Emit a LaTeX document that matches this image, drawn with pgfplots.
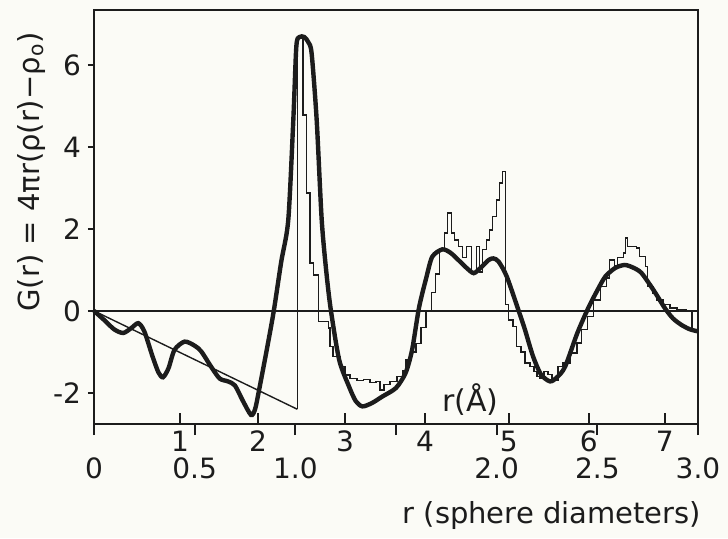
\documentclass[border=0pt]{standalone}
\usepackage{fontspec}
\setmainfont{DejaVu Sans}
\usepackage{pgfplots}
\pgfplotsset{compat=1.18}
\definecolor{paper}{RGB}{251,251,246}
\definecolor{ink}{RGB}{28,28,28}

\begin{document}
\begin{tikzpicture}
% 1 px of the reference = 0.5pt
\useasboundingbox[fill=paper] (-47pt,-57pt) rectangle (317pt,212pt);
\begin{axis}[
  scale only axis, width=302pt, height=207pt,
  xmin=0, xmax=3, ymin=-2.76, ymax=7.34,
  axis line style={line width=1.25pt, ink},
  font=\fontsize{14}{16}\selectfont,
  every tick label/.append style={ink},
  xtick pos=bottom, ytick pos=left,
  tick align=outside,
  tick style={line width=0.9pt, ink},
  major tick length=3pt,
  ytick={-2,0,2,4,6},
  yticklabels={-2,0,2,4,6},
  xtick={0,0.5,1,1.5,2,2.5,3},
  xticklabels={0,0.5,1.0,,2.0,2.5,3.0},
  x tick style={/pgfplots/major tick length=5.5pt},
  xticklabel style={yshift=-10.5pt},
  extra x ticks={0.427,0.815,1.247,1.644,2.06,2.458,2.835},
  extra x tick labels={1,2,3,4,5,6,7},
  extra x tick style={tick align=inside, /pgfplots/major tick length=3.5pt,
    xticklabel style={yshift=10.5pt}},
  xlabel={r (sphere diameters)},
  xlabel style={at={(axis description cs:0.758,-0.22)}, anchor=center,
    font=\fontsize{14.5}{17}\selectfont, ink},
  ylabel={G(r) = 4πr(ρ(r)−ρ\textsubscript{o})},
  ylabel style={at={(axis description cs:-0.104,0.609)}, anchor=center,
    font=\fontsize{14.5}{17}\selectfont, ink},
  clip=false,
]
% zero line
\addplot[ink, line width=0.75pt] coordinates {(0,0) (3,0)};

% hard-sphere part, r < 1
\addplot[ink, line width=0.7pt] coordinates {(0,0) (1.01,-2.4)};

% histogram
\addplot[const plot, ink, line width=0.7pt] coordinates {
  (1.01,-2.4) (1.01,6.65) (1.038,4.78) (1.056,2.88) (1.073,1.17) (1.089,0.88)
  (1.114,-0.26) (1.164,-0.42) (1.172,-0.87) (1.187,-1.12) (1.222,-1.36)
  (1.247,-1.56) (1.272,-1.65) (1.306,-1.7) (1.34,-1.68) (1.371,-1.75)
  (1.40,-1.72) (1.421,-1.93) (1.44,-1.8) (1.47,-1.72) (1.504,-1.6)
  (1.535,-1.45) (1.55,-1.2) (1.575,-1.0) (1.60,-0.8) (1.625,-0.4)
  (1.65,0.0) (1.675,0.45) (1.695,0.9) (1.715,1.5) (1.74,1.9) (1.755,2.39)
  (1.775,1.9) (1.79,1.73) (1.81,1.57) (1.83,1.3) (1.85,1.57) (1.875,0.95)
  (1.90,1.57) (1.915,0.95) (1.93,1.49) (1.95,1.73) (1.965,1.97) (1.98,2.3)
  (2.0,2.7) (2.015,3.12) (2.03,3.4) (2.045,0.15) (2.06,-0.22) (2.081,-0.38)
  (2.10,-0.87) (2.121,-1.0) (2.141,-1.27) (2.166,-1.36) (2.185,-1.48)
  (2.20,-1.6) (2.215,-1.64) (2.235,-1.48) (2.255,-1.55) (2.275,-1.7)
  (2.305,-1.36) (2.33,-1.27) (2.365,-1.03) (2.40,-0.78) (2.42,-0.46)
  (2.45,-0.14) (2.48,0.27) (2.515,0.59) (2.545,0.8) (2.56,1.24) (2.585,1.1)
  (2.60,1.3) (2.63,1.41) (2.64,1.78) (2.65,1.57) (2.695,1.53) (2.71,1.32)
  (2.74,1.08) (2.75,0.59) (2.777,0.43) (2.795,0.27) (2.826,0.15)
  (2.86,0.07) (2.895,0.02) (2.94,-0.02) (2.97,-0.46) (3.0,-0.46)
};

% smooth experimental curve
\addplot[smooth, tension=0.45, ink, line width=2.2pt] coordinates {
  (0,0) (0.05,-0.22) (0.10,-0.45) (0.145,-0.54) (0.185,-0.42) (0.22,-0.3)
  (0.25,-0.5) (0.29,-1.1) (0.32,-1.5) (0.343,-1.62) (0.37,-1.4) (0.40,-0.95)
  (0.45,-0.75) (0.50,-0.85) (0.533,-0.99) (0.58,-1.35) (0.624,-1.65)
  (0.665,-1.72) (0.70,-1.82) (0.74,-2.2) (0.78,-2.54) (0.80,-2.4)
  (0.82,-1.93) (0.86,-0.9) (0.893,0) (0.93,1.2) (0.965,2.22) (0.99,4.66)
  (1.005,6.45) (1.02,6.68) (1.045,6.68) (1.065,6.55) (1.081,6.28)
  (1.106,4.66) (1.131,2.22) (1.155,0.9) (1.177,0) (1.218,-1.2)
  (1.267,-1.85) (1.30,-2.2) (1.333,-2.33) (1.38,-2.25) (1.432,-2.09)
  (1.50,-1.88) (1.548,-1.51) (1.58,-0.95) (1.614,0.07) (1.65,0.8)
  (1.68,1.32) (1.73,1.5) (1.77,1.42) (1.81,1.24) (1.85,1.05) (1.886,0.92)
  (1.92,1.05) (1.96,1.24) (1.984,1.28) (2.01,1.2) (2.05,0.84) (2.108,0.02)
  (2.14,-0.45) (2.18,-1.1) (2.22,-1.55) (2.265,-1.72) (2.30,-1.62)
  (2.34,-1.36) (2.40,-0.55) (2.455,0.07) (2.50,0.5) (2.54,0.84)
  (2.59,1.05) (2.637,1.12) (2.68,1.05) (2.72,0.92) (2.78,0.5)
  (2.835,0.07) (2.875,-0.18) (2.917,-0.34) (2.96,-0.45) (3.0,-0.5)
};

\node[ink, font=\fontsize{15}{17}\selectfont] at (axis cs:1.87,-2.17) {r(Å)};
\end{axis}
\end{tikzpicture}
\end{document}
